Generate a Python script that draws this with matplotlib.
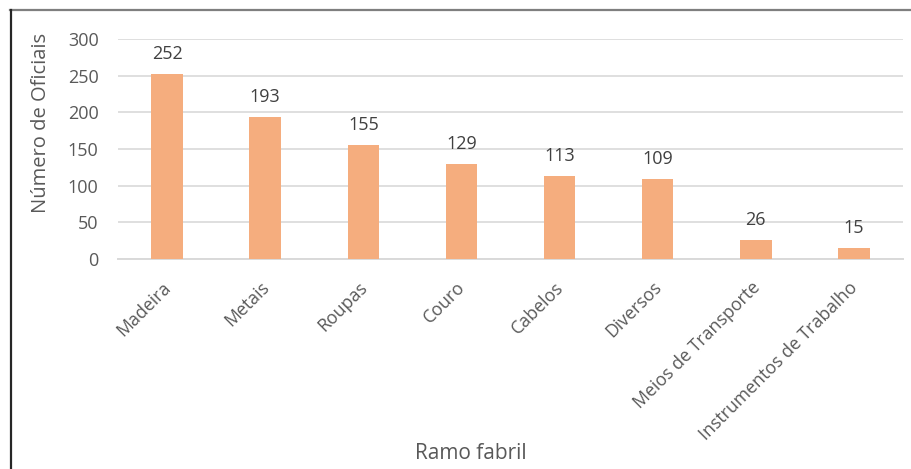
import matplotlib
matplotlib.use("Agg")
import matplotlib.pyplot as plt
from matplotlib.lines import Line2D
from matplotlib.transforms import ScaledTranslation

categories = ["Madeira", "Metais", "Roupas", "Couro", "Cabelos", "Diversos",
              "Meios de Transporte", "Instrumentos de Trabalho"]
oficiais = [252, 193, 155, 129, 113, 109, 26, 15]
yticks = [0, 50, 100, 150, 200, 250, 300]

plt.rcParams["font.family"] = ["Open Sans", "DejaVu Sans"]

W, H = 911, 469
fig = plt.figure(figsize=(W / 100, H / 100), dpi=100)
ax = fig.add_axes([118 / W, 1 - 259 / H, (903 - 118) / W, (259 - 39) / H])

x = range(len(categories))
ax.bar(x, oficiais, width=0.32, color="#F5AD7E", zorder=3)

ax.set_ylim(0, 300)
ax.set_xlim(-0.5, len(categories) - 0.5)
ax.set_yticks(yticks)
ax.set_yticklabels([str(v) for v in yticks])
ax.grid(axis="y", color="#D9D9D9", linewidth=1.2, zorder=0)
for s in ["top", "right", "left"]:
    ax.spines[s].set_visible(False)
ax.spines["bottom"].set_color("#D9D9D9")
ax.spines["bottom"].set_linewidth(1.4)
ax.tick_params(axis="both", length=0, colors="#595959", labelsize=13)
ax.tick_params(axis="y", pad=14)
ax.tick_params(axis="x", pad=14, labelsize=12.8)

ax.set_xticks(list(x))
ax.set_xticklabels(categories, rotation=45, ha="right", rotation_mode="anchor")
shift = ScaledTranslation(-5 / 100, 0, fig.dpi_scale_trans)
for lbl in ax.get_xticklabels():
    lbl.set_transform(lbl.get_transform() + shift)

for xi, v in zip(x, oficiais):
    ax.annotate(str(v), (xi, v), xytext=(0, 8), textcoords="offset points",
                ha="center", va="bottom", fontsize=13, color="#404040")

ax.set_ylabel("Número de Oficiais", fontsize=14.5, color="#595959")
ax.yaxis.set_label_coords(-(118 - 51) / (903 - 118), (259 - 123) / 220)
fig.text(471 / W, 1 - 453 / H, "Ramo fabril", ha="center", va="center",
         fontsize=15, color="#595959")

# frame lines of the surrounding box
fig.add_artist(Line2D([10 / W, 1], [1 - 10.5 / H, 1 - 10.5 / H],
                      transform=fig.transFigure, color="#7F7F7F", linewidth=1.6))
fig.add_artist(Line2D([10.5 / W, 10.5 / W], [0, 1 - 10 / H],
                      transform=fig.transFigure, color="#262626", linewidth=1.6))

fig.savefig("out.png", dpi=100)
